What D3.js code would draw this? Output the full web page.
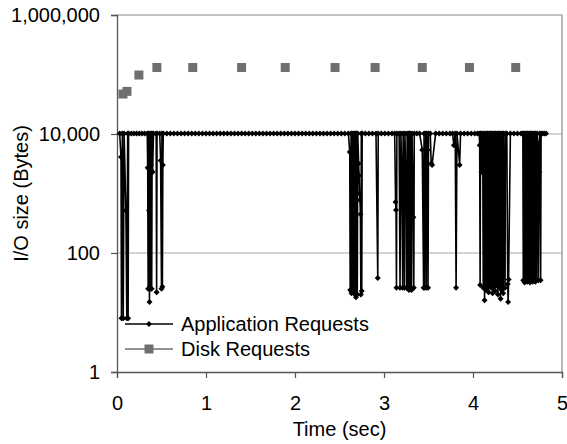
<!DOCTYPE html>
<html>
<head>
<meta charset="utf-8">
<script src="https://cdn.jsdelivr.net/npm/d3@7"></script>
<style>
  body { margin: 0; background: #fff; }
  text { font-family: "Liberation Sans", Arial, sans-serif; }
</style>
</head>
<body>
<div id="container"></div>
<script>
// tick values
const xTicks = [0, 1, 2, 3, 4, 5];
const yTicks = [1, 100, 10000, 1000000];
const gridValues = [100, 10000];

// disk requests: [time (sec), size (bytes)]
const diskData = [
  [0.067, 47000], [0.112, 52000], [0.246, 98000], [0.448, 131072],
  [0.851, 131072], [1.40, 131072], [1.89, 131072], [2.45, 131072],
  [2.90, 131072], [3.43, 131072], [3.96, 131072], [4.48, 131072]
];

// application requests: [time (sec), size (bytes)]
const appData = [
  [0.03, 10240], [0.045, 4100], [0.05, 8], [0.06, 10240], [0.07, 8], [0.08, 10240], [0.10, 520], [0.11, 8],
  [0.12, 10240], [0.125, 8], [0.13, 10240], [0.16, 10240], [0.19, 10240], [0.22, 10240], [0.25, 10240],
  [0.28, 10240], [0.31, 10240], [0.34, 10240], [0.345, 2700], [0.35, 25], [0.355, 10240], [0.36, 520],
  [0.365, 15], [0.37, 10240], [0.375, 25], [0.38, 3000], [0.385, 10240], [0.39, 25], [0.395, 10240],
  [0.40, 2300], [0.41, 10240], [0.44, 10240], [0.445, 22], [0.45, 10240], [0.48, 10240], [0.49, 3600],
  [0.50, 25], [0.505, 10240], [0.51, 27], [0.515, 3000], [0.52, 10240], [0.56, 10240], [0.60, 10240],
  [0.64, 10240], [0.68, 10240], [0.72, 10240], [0.76, 10240], [0.80, 10240], [0.84, 10240], [0.88, 10240],
  [0.92, 10240], [0.96, 10240], [1.00, 10240], [1.04, 10240], [1.08, 10240], [1.12, 10240], [1.16, 10240],
  [1.20, 10240], [1.24, 10240], [1.28, 10240], [1.32, 10240], [1.36, 10240], [1.40, 10240], [1.44, 10240],
  [1.48, 10240], [1.52, 10240], [1.56, 10240], [1.60, 10240], [1.64, 10240], [1.68, 10240], [1.72, 10240],
  [1.76, 10240], [1.80, 10240], [1.84, 10240], [1.88, 10240], [1.92, 10240], [1.96, 10240], [2.00, 10240],
  [2.04, 10240], [2.08, 10240], [2.12, 10240], [2.16, 10240], [2.20, 10240], [2.24, 10240], [2.28, 10240],
  [2.32, 10240], [2.36, 10240], [2.40, 10240], [2.44, 10240], [2.48, 10240], [2.52, 10240], [2.56, 10240],
  [2.60, 10240], [2.615, 5000], [2.62, 24], [2.63, 10240], [2.635, 21], [2.64, 10240], [2.65, 26],
  [2.655, 10240], [2.66, 22], [2.67, 10240], [2.675, 20], [2.68, 10240], [2.685, 18], [2.69, 10240],
  [2.70, 20], [2.705, 10240], [2.715, 3200], [2.72, 2000], [2.725, 1000], [2.73, 780], [2.735, 450],
  [2.74, 20], [2.745, 10240], [2.75, 23], [2.755, 10240], [2.79, 10240], [2.83, 10240], [2.87, 10240],
  [2.91, 10240], [2.93, 38], [2.935, 10240], [2.97, 10240], [3.01, 10240], [3.05, 10240], [3.09, 10240],
  [3.12, 10240], [3.13, 720], [3.135, 530], [3.14, 26], [3.145, 10240], [3.17, 10240], [3.18, 26],
  [3.19, 10240], [3.20, 2300], [3.21, 26], [3.215, 10240], [3.225, 1000], [3.23, 26], [3.235, 10240],
  [3.25, 700], [3.255, 26], [3.26, 10240], [3.27, 26], [3.275, 10240], [3.28, 24], [3.285, 10240],
  [3.295, 26], [3.30, 10240], [3.31, 24], [3.315, 10240], [3.33, 400], [3.335, 26], [3.34, 10240],
  [3.37, 10240], [3.40, 10240], [3.43, 5400], [3.445, 26], [3.45, 10240], [3.455, 26], [3.46, 2000],
  [3.47, 10240], [3.475, 26], [3.48, 10240], [3.49, 5400], [3.495, 26], [3.50, 10240], [3.52, 10240],
  [3.53, 3200], [3.54, 3000], [3.58, 10240], [3.62, 10240], [3.66, 10240], [3.70, 10240], [3.74, 10240],
  [3.77, 10240], [3.785, 6500], [3.80, 10240], [3.81, 26], [3.82, 10240], [3.85, 3000], [3.86, 10240],
  [3.90, 10240], [3.94, 10240], [3.98, 10240], [4.02, 10240], [4.05, 10240], [4.07, 10240], [4.075, 6500],
  [4.08, 29], [4.085, 10240], [4.095, 2300], [4.10, 10240], [4.11, 4400], [4.115, 26], [4.12, 10240],
  [4.13, 16], [4.135, 10240], [4.145, 24], [4.15, 10240], [4.16, 26], [4.165, 10240], [4.175, 22],
  [4.18, 10240], [4.19, 29], [4.195, 10240], [4.205, 26], [4.21, 10240], [4.22, 21], [4.225, 10240],
  [4.235, 26], [4.24, 10240], [4.25, 23], [4.255, 10240], [4.265, 29], [4.27, 10240], [4.28, 20],
  [4.285, 10240], [4.295, 26], [4.30, 10240], [4.31, 17], [4.315, 10240], [4.325, 24], [4.33, 10240],
  [4.34, 21], [4.345, 10240], [4.36, 26], [4.365, 10240], [4.38, 10240], [4.39, 30], [4.395, 15],
  [4.40, 36], [4.42, 10240], [4.46, 10240], [4.50, 10240], [4.54, 10240], [4.56, 10240], [4.565, 35],
  [4.57, 10240], [4.58, 32], [4.585, 10240], [4.595, 35], [4.60, 10240], [4.61, 33], [4.615, 10240],
  [4.625, 35], [4.63, 10240], [4.64, 32], [4.645, 10240], [4.655, 35], [4.66, 10240], [4.67, 33],
  [4.675, 10240], [4.685, 35], [4.69, 10240], [4.70, 33], [4.705, 10240], [4.715, 35], [4.72, 10240],
  [4.73, 7000], [4.735, 35], [4.74, 3200], [4.745, 2300], [4.75, 10240], [4.76, 35], [4.765, 10240],
  [4.78, 10240], [4.80, 10240], [4.82, 10240]
];

const w = 567;
const h = 444;
const padLeft = 117, padRight = 562, padTop = 15, padBottom = 372;

const svg = d3.select("#container")
  .append("svg")
  .attr("width", w)
  .attr("height", h);

const xScale = d3.scaleLinear().domain([0, 5]).range([padLeft, padRight]);
const yScale = d3.scaleLog().domain([1, 1000000]).range([padBottom, padTop]);

// gridlines
svg.selectAll(".grid")
  .data(gridValues)
  .enter()
  .append("line")
  .attr("x1", padLeft).attr("x2", padRight)
  .attr("y1", (d) => yScale(d)).attr("y2", (d) => yScale(d))
  .attr("stroke", "#a8a8a8")
  .attr("stroke-width", 1);

// frame top + right
svg.append("path")
  .attr("d", `M${padLeft},${padTop}H${padRight}V${padBottom}`)
  .attr("fill", "none")
  .attr("stroke", "#8a8a8a")
  .attr("stroke-width", 1.2);

const yAxis = d3.axisLeft(yScale)
  .tickValues(yTicks)
  .tickFormat(d3.format(","))
  .tickSizeOuter(0)
  .tickSize(6)
  .tickPadding(11);
const gy = svg.append("g")
  .attr("transform", "translate(" + padLeft + ",0)")
  .call(yAxis);

const xAxis = d3.axisBottom(xScale)
  .tickValues(xTicks)
  .tickFormat(d3.format("d"))
  .tickSizeOuter(0)
  .tickSize(6)
  .tickPadding(18);
const gx = svg.append("g")
  .attr("transform", "translate(0," + padBottom + ")")
  .call(xAxis);

[gx, gy].forEach((g) => {
  g.select(".domain").attr("stroke", "#555").attr("stroke-width", 1.3);
  g.selectAll(".tick line").attr("stroke", "#555").attr("stroke-width", 1.2);
  g.selectAll(".tick text").attr("font-size", 20).attr("fill", "#000")
    .style("font-family", "'Liberation Sans', Arial, sans-serif");
});

// axis titles
svg.append("text")
  .attr("x", (padLeft + padRight) / 2)
  .attr("y", 436)
  .attr("text-anchor", "middle")
  .attr("font-size", 20)
  .attr("fill", "#000")
  .text("Time (sec)");

svg.append("text")
  .attr("transform", "translate(28," + ((padTop + padBottom) / 2) + ") rotate(-90)")
  .attr("text-anchor", "middle")
  .attr("font-size", 20)
  .attr("fill", "#000")
  .text("I/O size (Bytes)");

// application requests line
const line = d3.line()
  .x((d) => xScale(d[0]))
  .y((d) => yScale(d[1]));

svg.append("path")
  .datum(appData)
  .attr("d", line)
  .attr("fill", "none")
  .attr("stroke", "#000")
  .attr("stroke-width", 1.6)
  .attr("stroke-linejoin", "round");

const diamond = d3.symbol().type(d3.symbolSquare).size(18);

svg.selectAll(".app")
  .data(appData)
  .enter()
  .append("path")
  .attr("d", diamond)
  .attr("transform", (d) => "translate(" + xScale(d[0]) + "," + yScale(d[1]) + ") rotate(45)")
  .attr("fill", "#000");

// disk requests markers
svg.selectAll(".disk")
  .data(diskData)
  .enter()
  .append("rect")
  .attr("x", (d) => xScale(d[0]) - 4.5)
  .attr("y", (d) => yScale(d[1]) - 4.5)
  .attr("width", 9)
  .attr("height", 9)
  .attr("fill", "#6f6f6f");

// legend
const legend = svg.append("g");
legend.append("line")
  .attr("x1", 125).attr("x2", 173).attr("y1", 324).attr("y2", 324)
  .attr("stroke", "#000").attr("stroke-width", 1.5);
legend.append("path")
  .attr("d", diamond)
  .attr("transform", "translate(149,324) rotate(45)")
  .attr("fill", "#000");
legend.append("text")
  .attr("x", 181).attr("y", 331)
  .attr("font-size", 20).attr("fill", "#000")
  .text("Application Requests");

legend.append("line")
  .attr("x1", 125).attr("x2", 173).attr("y1", 349).attr("y2", 349)
  .attr("stroke", "#6f6f6f").attr("stroke-width", 1.5);
legend.append("rect")
  .attr("x", 144.5).attr("y", 344.5).attr("width", 9).attr("height", 9)
  .attr("fill", "#6f6f6f");
legend.append("text")
  .attr("x", 181).attr("y", 356)
  .attr("font-size", 20).attr("fill", "#000")
  .text("Disk Requests");
</script>
</body>
</html>
